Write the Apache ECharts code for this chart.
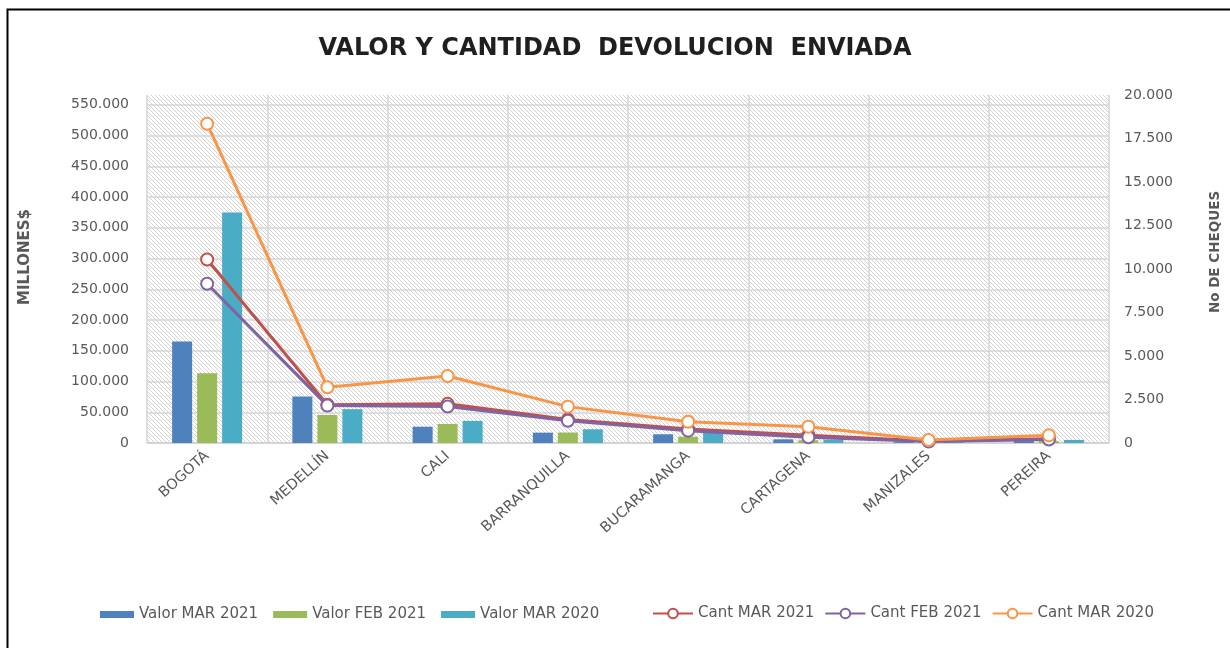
<!DOCTYPE html>
<html>
<head>
<meta charset="utf-8">
<script src="https://cdn.jsdelivr.net/npm/echarts@6/dist/echarts.min.js"></script>
<style>
html,body{margin:0;padding:0;background:#fff;}
#chart{width:1230px;height:648px;}
</style>
</head>
<body>
<div id="chart"></div>
<script>
const categories = ['BOGOTÁ','MEDELLÍN','CALI','BARRANQUILLA','BUCARAMANGA','CARTAGENA','MANIZALES','PEREIRA'];
const valorMar2021 = [165000, 75500, 26500, 16800, 14200, 6000, 1500, 5000];
const valorFeb2021 = [113500, 45500, 31000, 17000, 10300, 4500, 1000, 3000];
const valorMar2020 = [375000, 55000, 36000, 22300, 17400, 5500, 1500, 5000];
const cantMar2021 = [10550, 2200, 2250, 1350, 800, 450, 120, 250];
const cantFeb2021 = [9150, 2150, 2100, 1280, 710, 330, 90, 200];
const cantMar2020 = [18350, 3200, 3850, 2090, 1225, 940, 170, 440];

function fmt(v){ return String(Math.round(v)).replace(/\B(?=(\d{3})+(?!\d))/g, '.'); }

// crisp diagonal hatch pattern
const tile = document.createElement('canvas');
tile.width = 4; tile.height = 4;
const c = tile.getContext('2d');
c.fillStyle = '#ffffff'; c.fillRect(0,0,4,4);
c.fillStyle = '#d2d2d2';
for (let y = 0; y < 4; y++) for (let x = 0; x < 4; x++) if (((x - y) % 4 + 4) % 4 === 0) c.fillRect(x, y, 1, 1);

const FONT = 'DejaVu Sans';
const labelColor = '#595959';
const gridColor = '#d6d6d6';
const chart = echarts.init(document.getElementById('chart'));

const lineSeries = (name, data, color) => ({
  name, type: 'line', yAxisIndex: 1, data,
  symbol: 'emptyCircle', symbolSize: 12,
  lineStyle: {color, width: 3},
  itemStyle: {color, borderColor: color, borderWidth: 2.5},
  z: 5
});
const barSeries = (name, data, color) => ({
  name, type: 'bar', data, barWidth: 20, barGap: '25%',
  itemStyle: {color}
});

// 0..550.000 split lines visible, top (max) line hidden
const splitColors = [];
for (let i = 0; i < 12; i++) splitColors.push(gridColor);
splitColors.push('rgba(0,0,0,0)');

chart.setOption({
  animation: false,
  title: {
    text: 'VALOR Y CANTIDAD  DEVOLUCION  ENVIADA',
    left: 'center', top: 32,
    textStyle: {fontFamily: FONT, fontSize: 24, fontWeight: 'bold', color: '#1f1f1f'}
  },
  graphic: [{
    type: 'polyline', silent: true,
    shape: {points: [[7.5, 648], [7.5, 9.5], [1230, 9.5]]},
    style: {stroke: '#000', lineWidth: 2, fill: null}
  }],
  legend: [{
    left: 95, top: 602, itemWidth: 34, itemHeight: 7, itemGap: 15,
    icon: 'rect',
    data: ['Valor MAR 2021','Valor FEB 2021','Valor MAR 2020'],
    textStyle: {fontFamily: FONT, fontSize: 15, color: labelColor}
  },{
    left: 647, top: 601, itemWidth: 40, itemHeight: 12, itemGap: 10,
    data: ['Cant MAR 2021','Cant FEB 2021','Cant MAR 2020'],
    textStyle: {fontFamily: FONT, fontSize: 15, color: labelColor}
  }],
  grid: {
    left: 147, right: 120, top: 95, bottom: 205,
    show: true, borderWidth: 0, borderColor: 'rgba(0,0,0,0)',
    backgroundColor: {image: tile, repeat: 'repeat'}
  },
  xAxis: {
    type: 'category', data: categories,
    axisLine: {lineStyle: {color: '#d0d0d0', width: 1.5}},
    axisTick: {show: false},
    splitLine: {show: true, lineStyle: {color: gridColor, width: 1.5}},
    axisLabel: {rotate: 42, interval: 0, margin: 11, fontFamily: FONT, fontSize: 14.5, color: labelColor}
  },
  yAxis: [{
    type: 'value', min: 0, max: 566000, interval: 50000,
    name: 'MILLONES$', nameLocation: 'middle', nameRotate: 90, nameGap: 114,
    nameTextStyle: {fontFamily: FONT, fontSize: 15, fontWeight: 'bold', color: labelColor, padding: [0, 0, 0, 24]},
    axisLine: {show: false}, axisTick: {show: false},
    axisLabel: {showMaxLabel: false, margin: 18, fontFamily: FONT, fontSize: 14, color: labelColor, formatter: fmt},
    splitLine: {show: true, showMaxLine: false, lineStyle: {color: splitColors, width: 1.5}}
  },{
    type: 'value', min: 0, max: 20000, interval: 2500, position: 'right',
    name: 'No DE CHEQUES', nameLocation: 'middle', nameRotate: 90, nameGap: 99,
    nameTextStyle: {fontFamily: FONT, fontSize: 13.5, fontWeight: 'bold', color: labelColor, padding: [0, 0, 0, 34]},
    axisLine: {show: false}, axisTick: {show: false},
    axisLabel: {margin: 15, fontFamily: FONT, fontSize: 14, color: labelColor, formatter: fmt},
    splitLine: {show: false}
  }],
  series: [
    barSeries('Valor MAR 2021', valorMar2021, '#4f81bd'),
    barSeries('Valor FEB 2021', valorFeb2021, '#9bbb59'),
    barSeries('Valor MAR 2020', valorMar2020, '#4bacc6'),
    lineSeries('Cant MAR 2021', cantMar2021, '#c0504d'),
    lineSeries('Cant FEB 2021', cantFeb2021, '#8064a2'),
    lineSeries('Cant MAR 2020', cantMar2020, '#f79646')
  ]
});
</script>
</body>
</html>
